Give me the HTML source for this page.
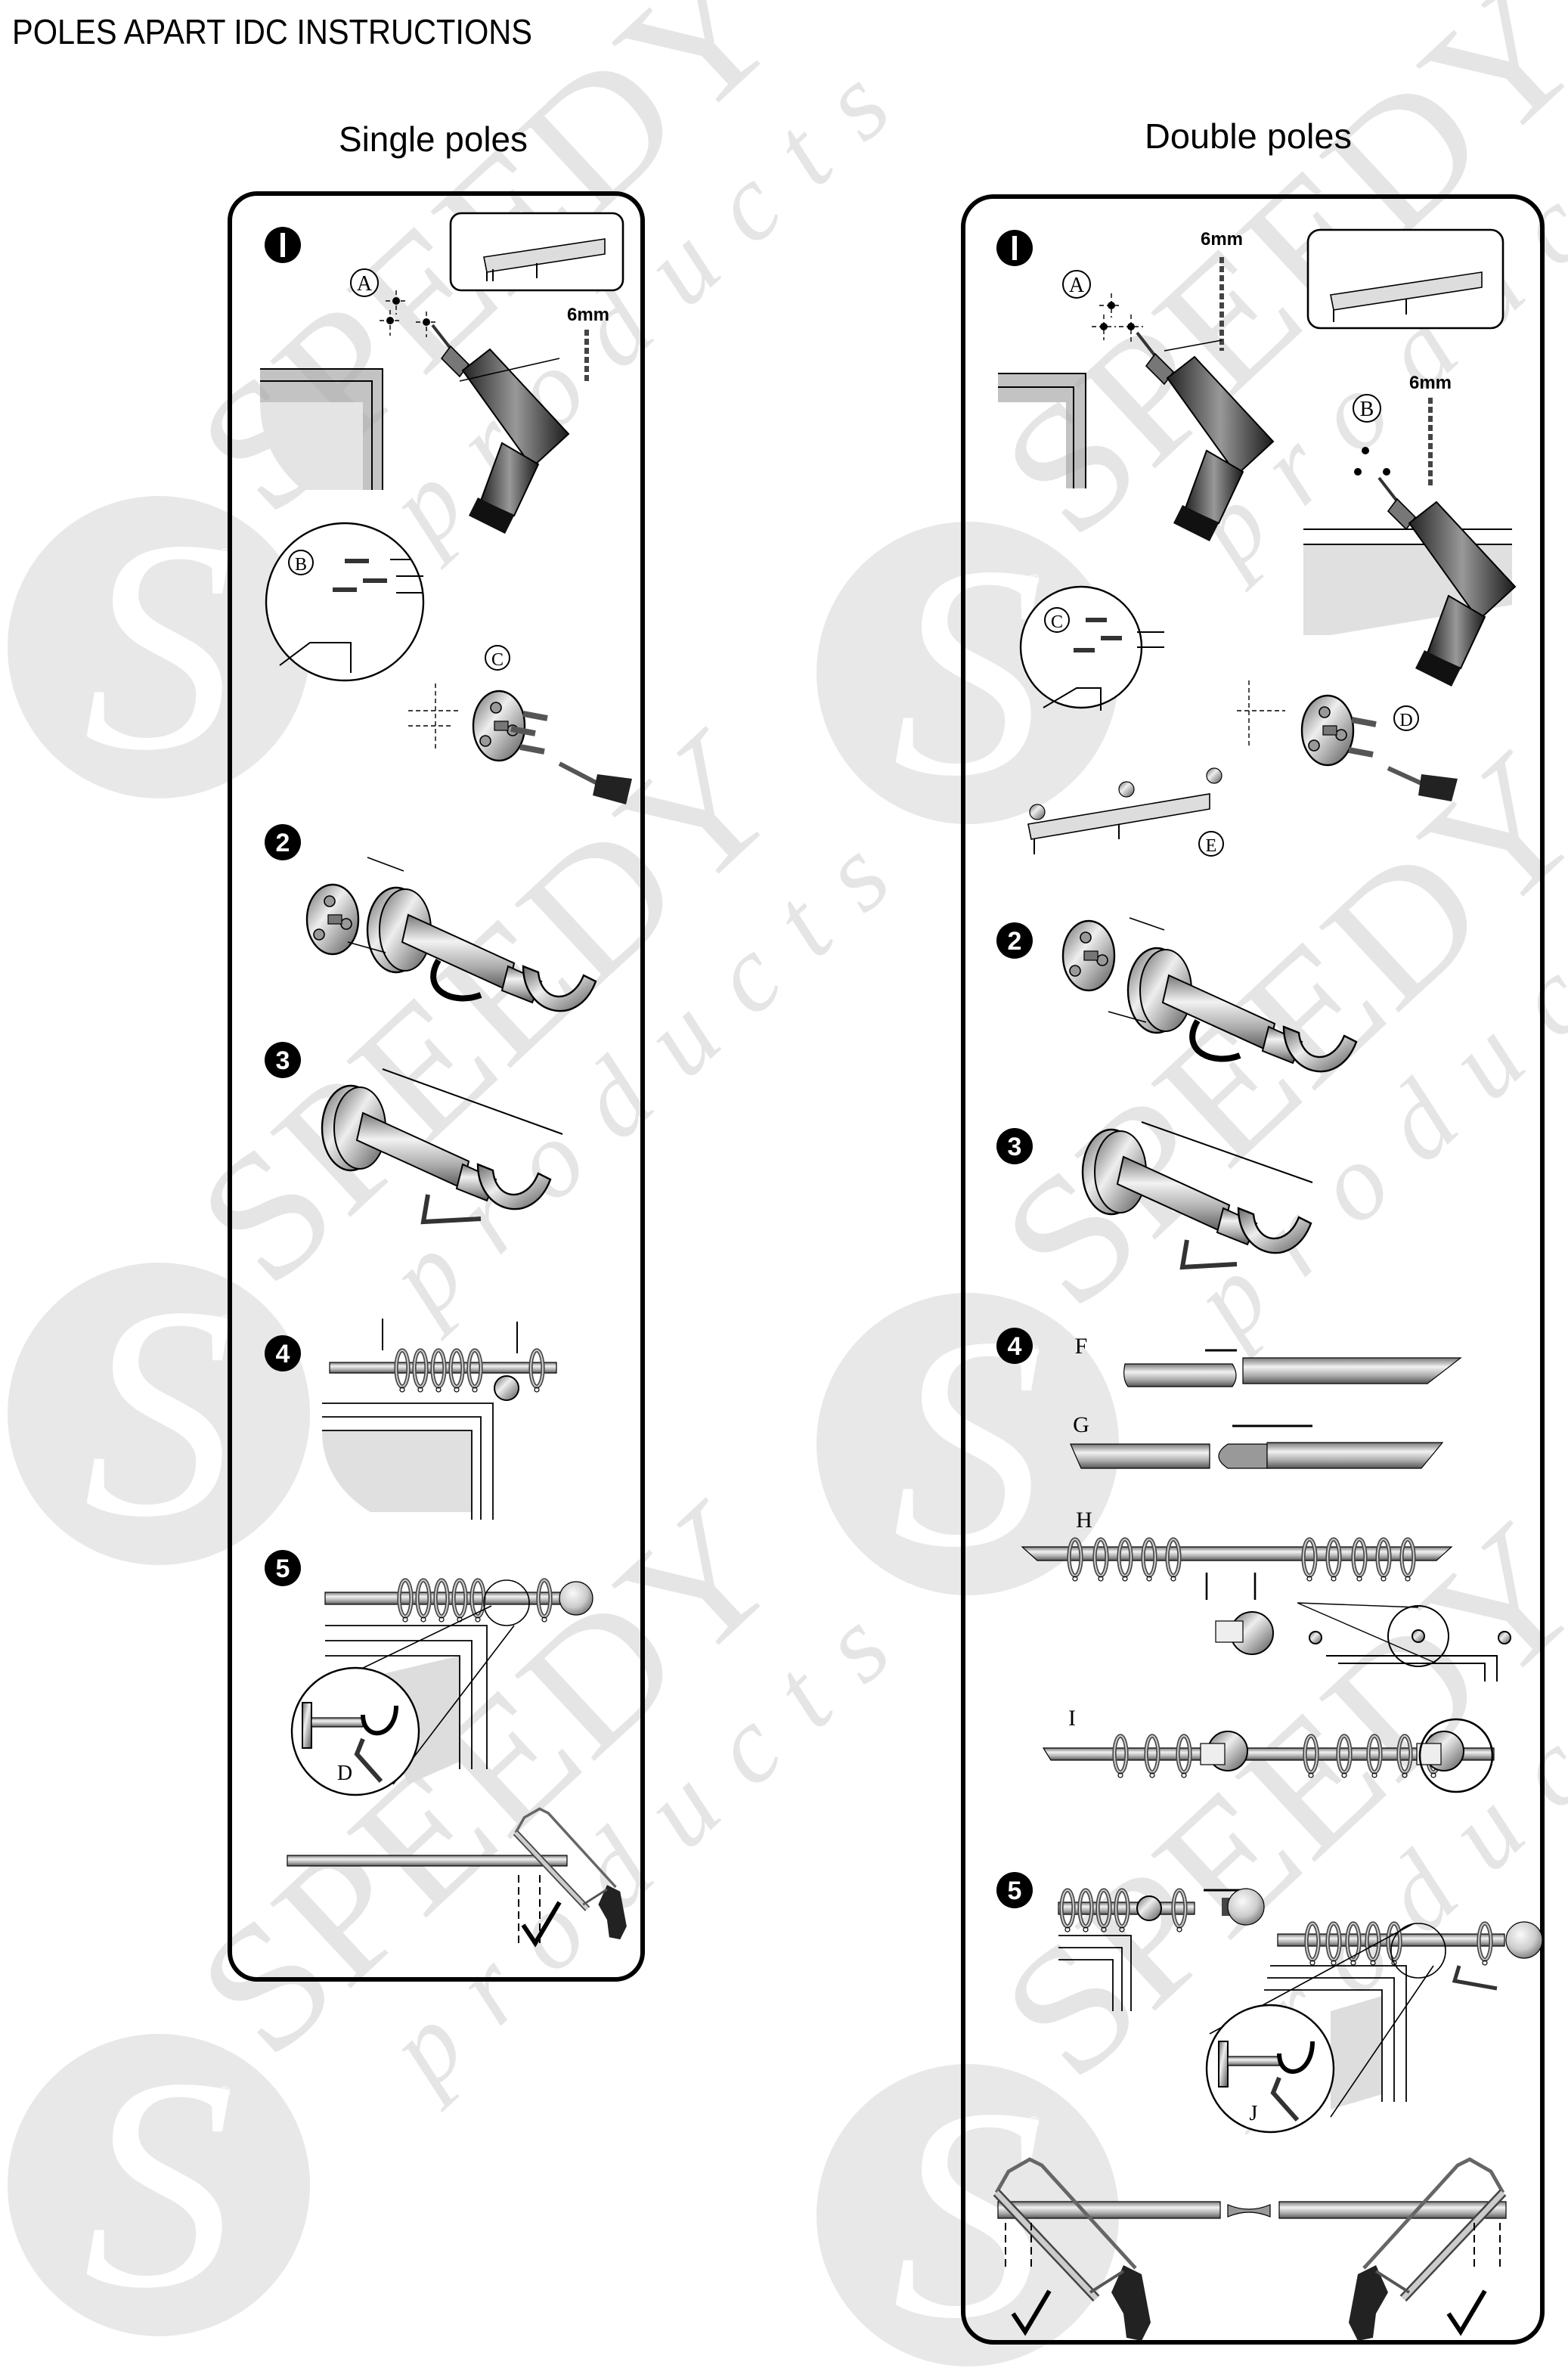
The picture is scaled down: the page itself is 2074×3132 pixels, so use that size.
<!DOCTYPE html>
<html><head><meta charset="utf-8"><style>
html,body{margin:0;padding:0;background:#fff;}
svg{display:block;}
</style></head><body>
<svg xmlns="http://www.w3.org/2000/svg" xmlns:xlink="http://www.w3.org/1999/xlink" width="2074" height="3132" viewBox="0 0 1037 1566">
<defs>
<linearGradient id="mg" x1="0" y1="0" x2="0" y2="1">
<stop offset="0" stop-color="#777"/><stop offset=".35" stop-color="#f2f2f2"/><stop offset=".7" stop-color="#aaa"/><stop offset="1" stop-color="#555"/></linearGradient>
<linearGradient id="mh" x1="0" y1="0" x2="1" y2="1">
<stop offset="0" stop-color="#666"/><stop offset=".4" stop-color="#eee"/><stop offset="1" stop-color="#555"/></linearGradient>
<radialGradient id="ball" cx=".4" cy=".35" r=".7"><stop offset="0" stop-color="#fafafa"/><stop offset=".6" stop-color="#ccc"/><stop offset="1" stop-color="#777"/></radialGradient>
<linearGradient id="dr" x1="0" y1="0" x2="1" y2="0"><stop offset="0" stop-color="#222"/><stop offset=".5" stop-color="#999"/><stop offset="1" stop-color="#1a1a1a"/></linearGradient>
<g id="bracket">
<ellipse cx="0" cy="0" rx="19" ry="28" fill="url(#mh)" stroke="#000" stroke-width="1.2"/>
<ellipse cx="6" cy="0" rx="17" ry="27" fill="url(#mh)" stroke="#000" stroke-width="1"/>
<path d="M8,-10 L78,22 L74,40 L4,8 Z" fill="url(#mg)" stroke="#000" stroke-width="1"/>
<path d="M74,24 L96,34 L90,48 L70,40 Z" fill="url(#mg)" stroke="#000" stroke-width="1"/>
<path d="M84,24 C84,56 120,66 132,34 L124,30 C116,50 96,48 94,28 Z" fill="url(#mh)" stroke="#000" stroke-width="1.2"/>
</g>
<g id="plate">
<ellipse cx="0" cy="0" rx="17" ry="23" fill="url(#mh)" stroke="#000" stroke-width="1.2"/>
<circle cx="-2" cy="-12" r="3.5" fill="#999" stroke="#000" stroke-width=".8"/>
<circle cx="-9" cy="10" r="3.5" fill="#999" stroke="#000" stroke-width=".8"/>
<circle cx="9" cy="3" r="3.5" fill="#999" stroke="#000" stroke-width=".8"/>
<rect x="-3" y="-3" width="9" height="6" fill="#777" stroke="#000" stroke-width=".6"/>
</g>
<g id="ring"><ellipse cx="0" cy="0" rx="4" ry="12" fill="none" stroke="#444" stroke-width="2.6"/><ellipse cx="0" cy="0" rx="4" ry="12" fill="none" stroke="#ccc" stroke-width="1"/><circle cx="0" cy="14" r="1.5" fill="none" stroke="#000" stroke-width=".6"/></g>
<g id="drill">
<path d="M0,0 L14,18" stroke="#333" stroke-width="2"/>
<path d="M12,14 L24,26 L18,34 L6,22 Z" fill="#777" stroke="#000" stroke-width=".8"/>
<path d="M20,30 L38,16 L90,72 L66,94 Z" fill="url(#dr)" stroke="#000" stroke-width="1"/>
<path d="M46,78 L70,92 L54,126 L32,116 Z" fill="url(#dr)" stroke="#000"/>
<path d="M30,114 L54,126 L48,138 L24,126 Z" fill="#111"/>
</g>
<g id="saw">
<path d="M0,0 L8,-14 L22,-22 L30,-18 L92,50" fill="none" stroke="#666" stroke-width="2.4"/>
<path d="M0,0 L66,70" stroke="#444" stroke-width="6"/>
<path d="M0,0 L66,70" stroke="#ccc" stroke-width="3.5"/>
<path d="M84,48 L96,54 L102,86 L96,98 L86,96 L84,80 L76,66 Z" fill="#222"/>
<path d="M62,66 L84,52" stroke="#555" stroke-width="2"/>
</g>
<g id="wm">
<circle cx="0" cy="0" r="100" fill="#e8e8e8"/>
<text x="-50" y="66" font-family="Liberation Serif, serif" font-size="200" font-style="italic" fill="#fff">S</text>
<text x="40" y="-58" font-family="Liberation Sans, sans-serif" font-size="10" fill="#fff">®</text>
</g>
<g id="wt">
<text x="0" y="0" transform="rotate(-43)" font-family="Liberation Serif, serif" font-size="118" fill="#dcdcdc" fill-opacity=".75" textLength="470" lengthAdjust="spacingAndGlyphs">SPEEDY</text>
<text x="66" y="86" transform="rotate(-43)" font-family="Liberation Serif, serif" font-style="italic" font-size="72" fill="#dcdcdc" fill-opacity=".75" textLength="420" lengthAdjust="spacing">products</text>
</g>
</defs>

<use xlink:href="#wm" x="105" y="428"/><use xlink:href="#wm" x="105" y="935"/><use xlink:href="#wm" x="105" y="1445"/>
<use xlink:href="#wm" x="640" y="445"/><use xlink:href="#wm" x="640" y="955"/><use xlink:href="#wm" x="640" y="1465"/>
<use xlink:href="#wt" x="178" y="345"/><use xlink:href="#wt" x="178" y="855"/><use xlink:href="#wt" x="178" y="1365"/>
<use xlink:href="#wt" x="710" y="360"/><use xlink:href="#wt" x="710" y="870"/><use xlink:href="#wt" x="710" y="1380"/>

<text x="8" y="29" font-family="Liberation Sans, sans-serif" font-size="23" textLength="344" lengthAdjust="spacingAndGlyphs">POLES APART IDC INSTRUCTIONS</text>
<text x="224" y="100" font-family="Liberation Sans, sans-serif" font-size="23" textLength="125" lengthAdjust="spacingAndGlyphs">Single poles</text>
<text x="757" y="98" font-family="Liberation Sans, sans-serif" font-size="23" textLength="137" lengthAdjust="spacingAndGlyphs">Double poles</text>

<rect x="152" y="128" width="273" height="1181" rx="18" fill="none" stroke="#000" stroke-width="3"/>
<rect x="637" y="130" width="383" height="1419" rx="20" fill="none" stroke="#000" stroke-width="3"/>

<g font-family="Liberation Sans, sans-serif" font-weight="bold" font-size="17" fill="#fff" text-anchor="middle">
<circle cx="187" cy="162" r="12" fill="#000"/><rect x="185.5" y="154" width="3" height="16" fill="#fff"/>
<circle cx="187" cy="557" r="12" fill="#000"/><text x="187" y="563">2</text>
<circle cx="187" cy="701" r="12" fill="#000"/><text x="187" y="707">3</text>
<circle cx="187" cy="895" r="12" fill="#000"/><text x="187" y="901">4</text>
<circle cx="187" cy="1037" r="12" fill="#000"/><text x="187" y="1043">5</text>
<circle cx="671" cy="164" r="12" fill="#000"/><rect x="669.5" y="156" width="3" height="16" fill="#fff"/>
<circle cx="671" cy="622" r="12" fill="#000"/><text x="671" y="628">2</text>
<circle cx="671" cy="758" r="12" fill="#000"/><text x="671" y="764">3</text>
<circle cx="671" cy="890" r="12" fill="#000"/><text x="671" y="896">4</text>
<circle cx="671" cy="1250" r="12" fill="#000"/><text x="671" y="1256">5</text>
</g>

<g font-family="Liberation Serif, serif" font-size="14" text-anchor="middle">
<!-- LEFT step 1 -->
<rect x="298" y="141" width="114" height="51" rx="7" fill="#fff" stroke="#000" stroke-width="1.3"/>
<path d="M320,170 L400,158 L400,168 L322,180 Z" fill="#ddd" stroke="#000" stroke-width=".8"/>
<path d="M322,180 V186 M326,178 V186 M355,174 V184" stroke="#000"/>
<circle cx="241" cy="187" r="9" fill="#fff" stroke="#000"/><text x="241" y="192">A</text>
<g fill="#000"><circle cx="262" cy="199" r="2.5"/><circle cx="258" cy="212" r="2.5"/><circle cx="282" cy="213" r="2.5"/></g>
<path d="M262,192 V208 M255,199 H270 M258,205 V222 M251,212 H265 M282,206 V223 M275,213 H290" stroke="#000" stroke-width=".7" stroke-dasharray="3 2"/>
<use xlink:href="#drill" x="286" y="215"/>
<path d="M370,237 L304,252" stroke="#000" stroke-width=".8"/>
<text x="389" y="212" font-family="Liberation Sans, sans-serif" font-weight="bold" font-size="12">6mm</text>
<path d="M388,218 V253" stroke="#444" stroke-width="3" stroke-dasharray="4 2"/>
<path d="M172,244 H253 V324 H240 V266 H172 Z" fill="#aaa" opacity=".7"/>
<path d="M172,266 H240 V324 H200 Q172,300 172,266 Z" fill="#e4e4e4"/>
<path d="M172,244 H253 V324 M172,252 H246 V324" fill="none" stroke="#000" stroke-width="1"/>
<circle cx="228" cy="398" r="52" fill="#fff" stroke="#000" stroke-width="1.2"/>
<circle cx="199" cy="372" r="8" fill="#fff" stroke="#000"/><text x="199" y="377" font-size="12">B</text>
<path d="M185,440 L205,425 H232 V445" fill="none" stroke="#000"/>
<g stroke="#333" stroke-width="3"><path d="M228,371 H244 M240,384 H256 M220,390 H236"/></g>
<g stroke="#000" stroke-width="1"><path d="M262,381 H280 M262,392 H280 M258,370 H272"/></g>
<circle cx="329" cy="435" r="8" fill="#fff" stroke="#000"/><text x="329" y="440" font-size="12">C</text>
<use xlink:href="#plate" x="330" y="480"/>
<path d="M346,472 L362,475 M344,494 L360,497 M338,482 L354,485" stroke="#555" stroke-width="4"/>
<path d="M270,470 H305 M270,480 H300 M288,452 V495" stroke="#000" stroke-width=".7" stroke-dasharray="3 2"/>
<path d="M370,505 L395,518" stroke="#555" stroke-width="3"/><path d="M395,512 L418,515 L414,532 L392,526 Z" fill="#222"/>
<!-- left step 2 -->
<use xlink:href="#plate" x="220" y="608"/>
<use xlink:href="#bracket" x="262" y="615"/>
<path d="M267,576 L243,567 M255,630 L230,623" stroke="#000" stroke-width=".8"/>
<path d="M290,635 C278,655 300,665 318,658" fill="none" stroke="#000" stroke-width="4"/>
<!-- left step 3 -->
<use xlink:href="#bracket" x="232" y="746"/>
<path d="M253,707 L372,750" stroke="#000" stroke-width="1"/>
<path d="M283,790 L280,808 L318,806" fill="none" stroke="#333" stroke-width="3"/>
<!-- left step 4 -->
<rect x="218" y="901" width="150" height="7" fill="url(#mg)" stroke="#000" stroke-width=".6"/>
<use xlink:href="#ring" x="266" y="905"/><use xlink:href="#ring" x="278" y="905"/><use xlink:href="#ring" x="290" y="905"/><use xlink:href="#ring" x="302" y="905"/><use xlink:href="#ring" x="314" y="905"/><use xlink:href="#ring" x="355" y="905"/>
<circle cx="335" cy="918" r="8" fill="url(#mh)" stroke="#000"/>
<path d="M253,872 V893 M342,874 V895" stroke="#000"/>
<path d="M213,946 H312 V1000 H245 Q213,980 213,946Z" fill="#e0e0e0"/>
<path d="M213,928 H326 V1005 M213,937 H318 V1005 M213,946 H312 V1005" fill="none" stroke="#000" stroke-width=".9"/>
<!-- left step 5 -->
<rect x="215" y="1053" width="165" height="8" fill="url(#mg)" stroke="#000" stroke-width=".6"/>
<circle cx="381" cy="1057" r="11" fill="url(#ball)" stroke="#000" stroke-width=".6"/>
<use xlink:href="#ring" x="268" y="1057"/><use xlink:href="#ring" x="280" y="1057"/><use xlink:href="#ring" x="292" y="1057"/><use xlink:href="#ring" x="304" y="1057"/><use xlink:href="#ring" x="316" y="1057"/><use xlink:href="#ring" x="360" y="1057"/>
<circle cx="335" cy="1060" r="15" fill="none" stroke="#000" stroke-width=".8"/>
<path d="M240,1110 L304,1095 V1165 L270,1180 Z" fill="#ddd"/>
<path d="M215,1075 H322 V1170 M215,1085 H312 V1170 M215,1095 H304 V1170" fill="none" stroke="#000" stroke-width=".9"/>
<path d="M205,1120 L325,1062 M260,1180 L340,1075" stroke="#000" stroke-width=".8"/>
<circle cx="235" cy="1145" r="42" fill="#fff" stroke="#000" stroke-width="1.2"/>
<rect x="200" y="1126" width="6" height="30" fill="url(#mh)" stroke="#000"/><rect x="206" y="1136" width="34" height="6" fill="url(#mg)" stroke="#000" stroke-width=".6"/>
<path d="M240,1134 C240,1152 262,1150 262,1128" fill="none" stroke="#000" stroke-width="3"/>
<path d="M240,1150 L236,1160 L252,1178" fill="none" stroke="#333" stroke-width="3"/>
<text x="228" y="1177">D</text>
<rect x="190" y="1227" width="185" height="7" fill="url(#mg)" stroke="#000" stroke-width=".6"/>
<use xlink:href="#saw" transform="translate(341,1212) scale(0.72)"/>
<path d="M343,1240 V1285 M357,1240 V1285" stroke="#000" stroke-dasharray="5 3"/>
<path d="M346,1273 L354,1285 L370,1258" fill="none" stroke="#000" stroke-width="3"/>

<!-- RIGHT step 1 -->
<rect x="865" y="152" width="129" height="65" rx="8" fill="#fff" stroke="#000" stroke-width="1.3"/>
<path d="M880,195 L980,180 L980,190 L882,205 Z" fill="#ddd" stroke="#000" stroke-width=".8"/><path d="M882,205 V213 M930,198 V208" stroke="#000"/>
<text x="808" y="162" font-family="Liberation Sans, sans-serif" font-weight="bold" font-size="12">6mm</text>
<path d="M808,170 V232" stroke="#444" stroke-width="3" stroke-dasharray="4 2"/>
<circle cx="712" cy="188" r="9" fill="#fff" stroke="#000"/><text x="712" y="193">A</text>
<g fill="#000"><circle cx="735" cy="202" r="2.5"/><circle cx="730" cy="216" r="2.5"/><circle cx="748" cy="216" r="2.5"/></g>
<path d="M735,194 V210 M727,202 H742 M730,208 V225 M722,216 H738 M748,208 V226 M740,216 H756" stroke="#000" stroke-width=".7" stroke-dasharray="3 2"/>
<use xlink:href="#drill" x="752" y="220"/>
<path d="M808,225 L770,232" stroke="#000" stroke-width=".8"/>
<path d="M660,247 H718 V323 H705 V266 H660Z" fill="#aaa" opacity=".7"/>
<path d="M660,247 H718 V323 M660,256 H710 V323" fill="none" stroke="#000"/>
<circle cx="904" cy="270" r="9" fill="#fff" stroke="#000"/><text x="904" y="275">B</text>
<text x="946" y="257" font-family="Liberation Sans, sans-serif" font-weight="bold" font-size="12">6mm</text>
<path d="M946,263 V322" stroke="#444" stroke-width="3" stroke-dasharray="4 2"/>
<g fill="#000"><circle cx="903" cy="298" r="2.5"/><circle cx="898" cy="312" r="2.5"/><circle cx="917" cy="312" r="2.5"/></g>
<path d="M862,360 H1000 V400 L880,420 H862Z" fill="#e0e0e0"/>
<path d="M862,350 H1000 M862,360 H1000" stroke="#000"/>
<use xlink:href="#drill" x="912" y="316"/>
<circle cx="715" cy="428" r="40" fill="#fff" stroke="#000" stroke-width="1.2"/>
<circle cx="699" cy="410" r="8" fill="#fff" stroke="#000"/><text x="699" y="415" font-size="12">C</text>
<path d="M690,468 L712,455 H728 V470" fill="none" stroke="#000"/>
<g stroke="#333" stroke-width="3"><path d="M718,410 H732 M728,422 H742 M710,430 H724"/></g>
<path d="M752,418 H770 M752,428 H770" stroke="#000"/>
<use xlink:href="#plate" x="878" y="483"/>
<path d="M894,476 L910,479 M892,496 L908,499" stroke="#555" stroke-width="4"/>
<path d="M818,470 H850 M826,450 V495" stroke="#000" stroke-width=".7" stroke-dasharray="3 2"/>
<circle cx="930" cy="475" r="8" fill="#fff" stroke="#000"/><text x="930" y="480" font-size="12">D</text>
<path d="M918,508 L940,518" stroke="#555" stroke-width="3"/><path d="M940,512 L964,515 L960,530 L938,526Z" fill="#222"/>
<path d="M680,545 L800,525 L800,535 L682,555Z" fill="#ddd" stroke="#000" stroke-width=".8"/><path d="M684,555 V565 M740,545 V555" stroke="#000"/>
<circle cx="686" cy="537" r="5" fill="url(#mh)" stroke="#000" stroke-width=".6"/><circle cx="745" cy="522" r="5" fill="url(#mh)" stroke="#000" stroke-width=".6"/><circle cx="803" cy="513" r="5" fill="url(#mh)" stroke="#000" stroke-width=".6"/>
<circle cx="801" cy="558" r="8" fill="#fff" stroke="#000"/><text x="801" y="563" font-size="12">E</text>
<!-- right step 2,3 -->
<use xlink:href="#plate" x="720" y="632"/>
<use xlink:href="#bracket" x="765" y="655"/>
<path d="M770,615 L747,607 M758,676 L733,669" stroke="#000" stroke-width=".8"/>
<path d="M792,675 C780,695 802,705 820,698" fill="none" stroke="#000" stroke-width="4"/>
<use xlink:href="#bracket" x="735" y="775"/>
<path d="M755,742 L868,782" stroke="#000"/>
<path d="M785,820 L782,838 L818,836" fill="none" stroke="#333" stroke-width="3"/>
<!-- right step 4 -->
<text x="715" y="895" font-size="15">F</text>
<path d="M744,902 Q742,912 746,917 H815 Q820,910 815,902 Z" fill="url(#mg)" stroke="#000" stroke-width=".6"/>
<path d="M797,893 H818" stroke="#000" stroke-width="1.5"/>
<path d="M822,898 H966 L944,915 H822Z" fill="url(#mg)" stroke="#000" stroke-width=".6"/>
<text x="715" y="947" font-size="15">G</text>
<path d="M708,955 H800 V971 H715Z" fill="url(#mg)" stroke="#000" stroke-width=".6"/>
<path d="M868,943 H815" stroke="#000" stroke-width="1.5"/>
<path d="M812,955 Q800,963 812,971 H838 V955Z" fill="#999" stroke="#000" stroke-width=".6"/>
<path d="M838,954 H954 L940,971 H838Z" fill="url(#mg)" stroke="#000" stroke-width=".6"/>
<text x="717" y="1010" font-size="15">H</text>
<path d="M676,1023 H960 L950,1032 H686Z" fill="url(#mg)" stroke="#000" stroke-width=".6"/>
<use xlink:href="#ring" x="711" y="1030"/><use xlink:href="#ring" x="728" y="1030"/><use xlink:href="#ring" x="744" y="1030"/><use xlink:href="#ring" x="760" y="1030"/><use xlink:href="#ring" x="776" y="1030"/>
<use xlink:href="#ring" x="866" y="1030"/><use xlink:href="#ring" x="882" y="1030"/><use xlink:href="#ring" x="899" y="1030"/><use xlink:href="#ring" x="915" y="1030"/><use xlink:href="#ring" x="931" y="1030"/>
<path d="M798,1040 V1058 M830,1040 V1058" stroke="#000" stroke-width="1.3"/>
<circle cx="828" cy="1080" r="14" fill="url(#mh)" stroke="#000"/><rect x="804" y="1072" width="18" height="14" fill="#eee" stroke="#000" stroke-width=".6"/>
<path d="M877,1095 H990 V1112 M885,1100 H982 V1112" fill="none" stroke="#000"/>
<circle cx="938" cy="1082" r="20" fill="none" stroke="#000"/>
<path d="M858,1060 L938,1063 M858,1060 L950,1100" stroke="#000" stroke-width=".7"/>
<circle cx="870" cy="1083" r="4" fill="url(#mh)" stroke="#000"/><circle cx="938" cy="1082" r="4" fill="url(#mh)" stroke="#000"/><circle cx="995" cy="1083" r="4" fill="url(#mh)" stroke="#000"/>
<text x="709" y="1141" font-size="15">I</text>
<path d="M690,1156 H988 V1164 H695Z" fill="url(#mg)" stroke="#000" stroke-width=".6"/>
<use xlink:href="#ring" x="741" y="1160"/><use xlink:href="#ring" x="762" y="1160"/><use xlink:href="#ring" x="783" y="1160"/>
<use xlink:href="#ring" x="867" y="1160"/><use xlink:href="#ring" x="889" y="1160"/><use xlink:href="#ring" x="909" y="1160"/><use xlink:href="#ring" x="929" y="1160"/><use xlink:href="#ring" x="948" y="1160"/>
<circle cx="812" cy="1158" r="13" fill="url(#mh)" stroke="#000"/><rect x="794" y="1153" width="16" height="14" fill="#eee" stroke="#000" stroke-width=".6"/>
<circle cx="955" cy="1158" r="13" fill="url(#mh)" stroke="#000"/><rect x="937" y="1153" width="16" height="14" fill="#eee" stroke="#000" stroke-width=".6"/>
<circle cx="963" cy="1161" r="24" fill="none" stroke="#000" stroke-width="1.3"/>
<!-- right step 5 -->
<rect x="700" y="1258" width="90" height="8" fill="url(#mg)" stroke="#000" stroke-width=".6"/>
<use xlink:href="#ring" x="706" y="1262"/><use xlink:href="#ring" x="718" y="1262"/><use xlink:href="#ring" x="730" y="1262"/><use xlink:href="#ring" x="742" y="1262"/><use xlink:href="#ring" x="780" y="1262"/>
<circle cx="760" cy="1262" r="8" fill="url(#mh)" stroke="#000"/>
<path d="M820,1250 H796" stroke="#000" stroke-width="1.5"/>
<rect x="808" y="1255" width="8" height="12" fill="#444"/><circle cx="824" cy="1261" r="12" fill="url(#ball)" stroke="#000" stroke-width=".6"/>
<path d="M700,1280 H748 V1330 M700,1288 H742 V1330 M700,1296 H736 V1330" fill="none" stroke="#000" stroke-width=".9"/>
<rect x="845" y="1279" width="150" height="8" fill="url(#mg)" stroke="#000" stroke-width=".6"/>
<circle cx="1008" cy="1283" r="12" fill="url(#ball)" stroke="#000" stroke-width=".6"/>
<use xlink:href="#ring" x="868" y="1284"/><use xlink:href="#ring" x="882" y="1284"/><use xlink:href="#ring" x="895" y="1284"/><use xlink:href="#ring" x="908" y="1284"/><use xlink:href="#ring" x="922" y="1284"/><use xlink:href="#ring" x="982" y="1284"/>
<circle cx="938" cy="1290" r="18" fill="none" stroke="#000" stroke-width=".8"/>
<path d="M880,1330 L914,1320 V1385 L880,1395Z" fill="#ddd"/>
<path d="M840,1300 H930 V1390 M838,1308 H922 V1390 M836,1316 H914 V1390" fill="none" stroke="#000" stroke-width=".9"/>
<path d="M800,1345 L935,1272 M880,1400 L948,1300" stroke="#000" stroke-width=".8"/>
<circle cx="840" cy="1368" r="42" fill="#fff" stroke="#000" stroke-width="1.2"/>
<rect x="806" y="1350" width="6" height="30" fill="url(#mh)" stroke="#000"/><rect x="812" y="1360" width="34" height="6" fill="url(#mg)" stroke="#000" stroke-width=".6"/>
<path d="M846,1358 C846,1376 868,1374 868,1350" fill="none" stroke="#000" stroke-width="3"/>
<path d="M846,1374 L842,1384 L858,1402" fill="none" stroke="#333" stroke-width="3"/>
<text x="829" y="1402">J</text>
<path d="M965,1300 L962,1310 L990,1315" fill="none" stroke="#333" stroke-width="2.5"/>
<rect x="660" y="1456" width="147" height="11" fill="url(#mg)" stroke="#000" stroke-width=".6"/>
<rect x="846" y="1456" width="150" height="11" fill="url(#mg)" stroke="#000" stroke-width=".6"/>
<path d="M812,1458 Q826,1464 840,1458 V1466 Q826,1460 812,1466Z" fill="#999" stroke="#000" stroke-width=".6"/>
<use xlink:href="#saw" transform="translate(659,1450)"/>
<use xlink:href="#saw" transform="translate(994,1450) scale(-1,1)"/>
<path d="M665,1470 V1500 M682,1470 V1500 M975,1470 V1500 M992,1470 V1500" stroke="#000" stroke-dasharray="5 3"/>
<path d="M670,1530 L678,1542 L694,1515 M958,1530 L966,1542 L982,1515" fill="none" stroke="#000" stroke-width="3"/>
</g>
</svg>
</body></html>
